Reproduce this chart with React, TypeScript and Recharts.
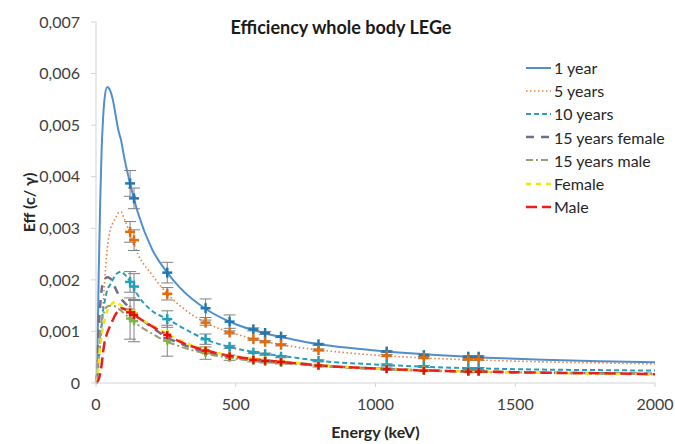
import React from "react";
import { ComposedChart, Line, Scatter, ErrorBar, XAxis, YAxis } from "recharts";

// energy grid of the fitted curves (keV)
const CURVE_E = [0, 3, 6, 10, 15, 20, 25, 30, 40, 50, 60, 70, 80, 90, 100, 122, 150, 200, 255, 300, 400, 500, 600, 700, 800, 1000, 1200, 1400, 1600, 1800, 2000];

const year1 = [0, 0.0002, 0.0009, 0.0022, 0.0035, 0.0045, 0.0051, 0.00548, 0.00574, 0.00568, 0.0055, 0.0052, 0.0049, 0.0047, 0.0044, 0.00387, 0.0033, 0.0026, 0.00214, 0.00185, 0.00141, 0.00114, 0.00097, 0.00085, 0.00075, 0.00063, 0.00055, 0.00049, 0.00045, 0.00042, 0.0004];
const years5 = [0, 0.00003, 0.0001, 0.0003, 0.0007, 0.0011, 0.0015, 0.0019, 0.0026, 0.00295, 0.0031, 0.0032, 0.0033, 0.00332, 0.0032, 0.0029, 0.0025, 0.0021, 0.00173, 0.0015, 0.00115, 0.00095, 0.00081, 0.00071, 0.00064, 0.00054, 0.00048, 0.00044, 0.00041, 0.00039, 0.00037];
const years10 = [0, 0.00003, 0.0002, 0.0005, 0.0008, 0.0011, 0.0014, 0.00155, 0.0018, 0.0019, 0.002, 0.0021, 0.00214, 0.00216, 0.00212, 0.00197, 0.0017, 0.0014, 0.00124, 0.0011, 0.00083, 0.00067, 0.00057, 0.0005, 0.00043, 0.00036, 0.00031, 0.00028, 0.00026, 0.00025, 0.00024];
const years15f = [0, 0.0002, 0.0006, 0.0011, 0.0015, 0.0018, 0.00195, 0.002, 0.00205, 0.00203, 0.00195, 0.00183, 0.00172, 0.00163, 0.00157, 0.00145, 0.0013, 0.00108, 0.00088, 0.00077, 0.00059, 0.00049, 0.00043, 0.00039, 0.00034, 0.00028, 0.00024, 0.00022, 0.0002, 0.00019, 0.00018];
const years15m = [0, 0.0001, 0.0003, 0.0006, 0.0009, 0.0012, 0.0013, 0.0014, 0.00148, 0.0015, 0.0015, 0.00148, 0.00144, 0.0014, 0.00135, 0.00126, 0.00113, 0.00096, 0.0008, 0.00071, 0.00056, 0.00047, 0.00041, 0.00037, 0.00033, 0.00027, 0.00024, 0.00021, 0.0002, 0.00018, 0.00017];
const female = [0, 0.00005, 0.0002, 0.0004, 0.0007, 0.0009, 0.0011, 0.0012, 0.0014, 0.0015, 0.00155, 0.00158, 0.00155, 0.0015, 0.00146, 0.0014, 0.00128, 0.00112, 0.00095, 0.00083, 0.00063, 0.00052, 0.00045, 0.0004, 0.00035, 0.00028, 0.00024, 0.00022, 0.0002, 0.00018, 0.00017];
const male = [0, 0.00001, 0.00003, 0.00008, 0.00018, 0.00035, 0.00058, 0.00077, 0.00097, 0.0011, 0.00122, 0.00133, 0.0014, 0.00145, 0.00144, 0.00137, 0.00127, 0.0011, 0.00093, 0.0008, 0.00062, 0.00051, 0.00044, 0.00039, 0.00034, 0.00028, 0.00024, 0.00022, 0.0002, 0.00019, 0.00017];

// measured points (keV) with their uncertainties
const POINT_E = [122, 136, 255, 392, 478, 563, 605, 662, 796, 1040, 1173, 1332, 1369];

const year1Pts = [0.00387, 0.00358, 0.00214, 0.00145, 0.00119, 0.00104, 0.00097, 0.0009, 0.00075, 0.00061, 0.00054, 0.00051, 0.00051];
const year1Err = [0.00025, 0.0002, 0.0002, 0.00018, 0.00013, 0.00003, 0.00003, 0.00002, 0.00002, 0.00002, 0.00002, 0.00002, 0.00002];
const years5Pts = [0.00293, 0.00277, 0.00173, 0.00117, 0.00098, 0.00085, 0.0008, 0.00074, 0.00064, 0.00053, 0.00049, 0.00046, 0.00046];
const years5Err = [0.0002, 0.0002, 0.00012, 0.00005, 0.00003, 0.00002, 0.00002, 0.00002, 0.00002, 0.00002, 0.00002, 0.00002, 0.00002];
const years10Pts = [0.00196, 0.00187, 0.00124, 0.00085, 0.0007, 0.00059, 0.00056, 0.00051, 0.00043, 0.00035, 0.00032, 0.00028, 0.00028];
const years10Err = [0.0002, 0.00025, 0.00016, 0.0001, 0.00003, 0.00002, 0.00002, 0.00002, 0.00002, 0.00002, 0.00002, 0.00002, 0.00002];
const years15fPts = [0.00142, 0.00135, 0.00087, 0.0006, 0.0005, 0.00044, 0.00042, 0.0004, 0.00034, 0.00028, 0.00025, 0.00022, 0.00022];
const years15mPts = [0.00125, 0.0012, 0.00082, 0.00058, 0.00049, 0.00043, 0.00041, 0.00039, 0.00033, 0.00027, 0.00024, 0.00022, 0.00022];
const years15mErr = [0.0004, 0.0004, 0.0003, 0.00012, 0.00005, 0.00002, 0.00002, 0.00002, 0.00002, 0.00002, 0.00002, 0.00002, 0.00002];
const femalePts = [0.0014, 0.00135, 0.00095, 0.00064, 0.00052, 0.00046, 0.00044, 0.00042, 0.00035, 0.00028, 0.00025, 0.00022, 0.00022];
const malePts = [0.00137, 0.00132, 0.00093, 0.00063, 0.00052, 0.00045, 0.00043, 0.00041, 0.00034, 0.00027, 0.00024, 0.00022, 0.00022];

const Y_TICKS = [0, 0.001, 0.002, 0.003, 0.004, 0.005, 0.006, 0.007];
const X_TICKS = [0, 500, 1000, 1500, 2000];

const curve = (vals: number[]) => CURVE_E.map((e, i) => ({ e, v: vals[i] }));
const points = (vals: number[], errs?: number[]) =>
  POINT_E.map((e, i) => ({ e, v: vals[i], err: errs ? errs[i] : 0 }));

const SERIES = [
  { name: "1 year", data: curve(year1), pts: points(year1Pts, year1Err), color: "#4f8fcc", mark: "#1f78b4", dash: undefined, width: 2, size: 5 },
  { name: "5 years", data: curve(years5), pts: points(years5Pts, years5Err), color: "#e9803f", mark: "#e36c0a", dash: "1.5 2.5", width: 1.6, size: 5 },
  { name: "10 years", data: curve(years10), pts: points(years10Pts, years10Err), color: "#2b9cbd", mark: "#23a0b8", dash: "5 3", width: 2, size: 5 },
  { name: "15 years female", data: curve(years15f), pts: points(years15fPts), color: "#6e6e90", mark: "#8a5fb5", dash: "8 7", width: 2.5, size: 4 },
  { name: "15 years male", data: curve(years15m), pts: points(years15mPts, years15mErr), color: "#9c9c70", mark: "#7ab648", dash: "7 3 2 3", width: 2, size: 4 },
  { name: "Female", data: curve(female), pts: points(femalePts), color: "#f5e600", mark: "#f2e200", dash: "5 5", width: 2.5, size: 4 },
  { name: "Male", data: curve(male), pts: points(malePts), color: "#ee1c1c", mark: "#e01010", dash: "11 5", width: 2.5, size: 4 },
];

const FONT = "Lato, 'Open Sans', sans-serif";

const Plus = (color: string, r: number) => (props: any) => {
  const { cx, cy } = props;
  if (cx == null || cy == null) return null;
  return (
    <g>
      <line x1={cx - r} y1={cy} x2={cx + r} y2={cy} stroke={color} strokeWidth={2.5} />
      <line x1={cx} y1={cy - r} x2={cx} y2={cy + r} stroke={color} strokeWidth={2.5} />
    </g>
  );
};

function LegendBox() {
  return (
    <div style={{ position: "absolute", left: 526, top: 56, fontFamily: FONT, fontSize: 16, color: "#262626" }}>
      {SERIES.map((s) => (
        <div key={s.name} style={{ display: "flex", alignItems: "center", height: 23.2 }}>
          <svg width={26} height={10} style={{ marginRight: 2 }}>
            <line x1={0} y1={5} x2={25} y2={5} stroke={s.color} strokeWidth={s.width} strokeDasharray={s.dash} />
          </svg>
          <span>{s.name}</span>
        </div>
      ))}
    </div>
  );
}

export default function App() {
  return (
    <div style={{ position: "relative", width: 675, height: 444, background: "#fff" }}>
      <style>{`body{margin:0}`}</style>
      <div
        style={{
          position: "absolute",
          top: 16,
          left: 0,
          width: 682,
          textAlign: "center",
          fontFamily: FONT,
          fontWeight: 700,
          fontSize: 18,
          color: "#1a1a1a",
        }}
      >
        Efficiency whole body LEGe
      </div>
      <ComposedChart width={675} height={444} margin={{ top: 22, right: 20, left: 0, bottom: 0 }}>
        <XAxis
          dataKey="e"
          type="number"
          domain={[0, 2000]}
          ticks={X_TICKS}
          stroke="#d4d4d4"
          tickSize={4}
          tickMargin={12}
          height={61}
          tick={{ fill: "#404040", fontSize: 16, fontFamily: FONT }}
          label={{ value: "Energy (keV)", position: "insideBottom", offset: 6, style: { fontFamily: FONT, fontWeight: 700, fontSize: 16, fill: "#262626" } }}
        />
        <YAxis
          type="number"
          domain={[0, 0.007]}
          ticks={Y_TICKS}
          width={96}
          stroke="#d4d4d4"
          tickSize={5}
          tickMargin={11}
          tick={{ fill: "#404040", fontSize: 16, fontFamily: FONT }}
          tickFormatter={(v: number) => (v === 0 ? "0" : v.toFixed(3).replace(".", ","))}
          label={{ value: "Eff (c/ γ)", angle: -90, position: "insideLeft", offset: 29, style: { textAnchor: "middle", fontFamily: FONT, fontWeight: 700, fontSize: 16, fill: "#262626" } }}
        />
        {SERIES.map((s) => (
          <Line
            key={s.name}
            data={s.data}
            dataKey="v"
            name={s.name}
            type="monotone"
            stroke={s.color}
            strokeWidth={s.width}
            strokeDasharray={s.dash}
            dot={false}
            activeDot={false}
            isAnimationActive={false}
          />
        ))}
        {SERIES.map((s) => (
          <Scatter
            key={s.name + "-pts"}
            data={s.pts}
            dataKey="v"
            legendType="none"
            shape={Plus(s.mark, s.size)}
            isAnimationActive={false}
          >
            <ErrorBar dataKey="err" direction="y" width={6} stroke="#808080" strokeWidth={1} isAnimationActive={false} />
          </Scatter>
        ))}
      </ComposedChart>
      <LegendBox />
    </div>
  );
}
